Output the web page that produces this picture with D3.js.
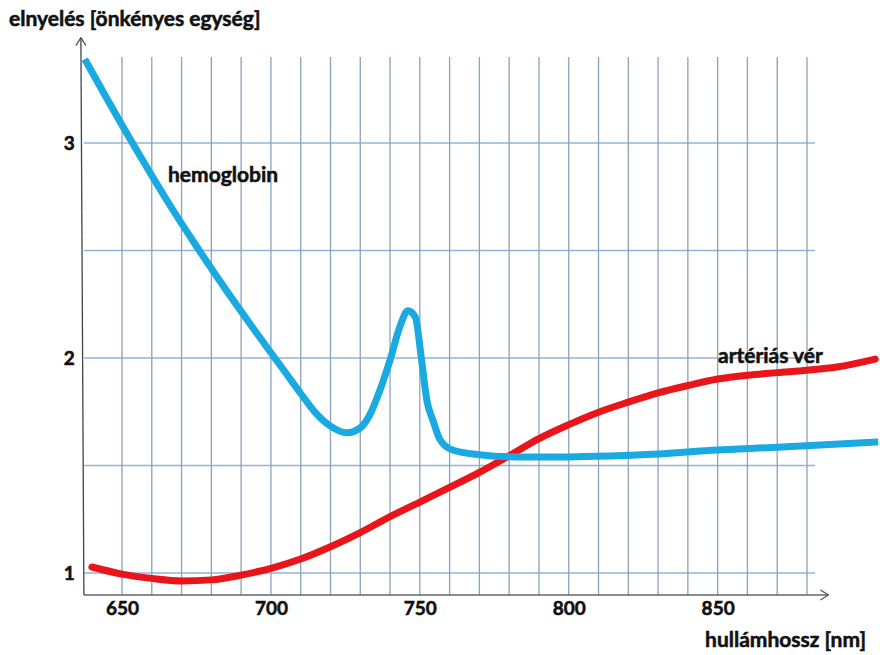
<!DOCTYPE html>
<head>
    <meta charset="utf-8">
    <title>elnyelés - hullámhossz</title>
    <style>
        body { margin: 0; background: #fff; }
        text { font-family: Lato, "Open Sans", sans-serif; font-weight: bold; fill: #111;
               stroke: #111; stroke-width: 0.55px; }
    </style>
</head>

<body>

<svg width="880" height="655"></svg>

<script src="https://d3js.org/d3.v7.min.js"></script>

<script>
    // hullámhossz [nm] -> elnyelés
    const hemoglobin = [
        [637.5, 3.39], [645, 3.205], [655, 2.965], [665, 2.735], [675, 2.52],
        [685, 2.315], [695, 2.12], [705, 1.93], [710, 1.835], [715, 1.745],
        [720, 1.683], [725.5, 1.652], [730, 1.675], [733, 1.73], [736.6, 1.85],
        [740, 1.99], [743.4, 2.15], [746, 2.22], [748.5, 2.19], [750.5, 2.0],
        [752.4, 1.80], [754.4, 1.71], [756.8, 1.62], [761, 1.572], [770, 1.55],
        [782.6, 1.54], [800, 1.54], [813.9, 1.544], [828, 1.552], [850, 1.572],
        [870, 1.585], [903.9, 1.609]
    ];
    const arterial = [
        [639.9, 1.028], [650, 0.995], [660, 0.975], [670, 0.963], [680, 0.968],
        [690, 0.99], [700, 1.022], [710, 1.065], [720, 1.122], [730, 1.188],
        [740, 1.262], [750, 1.33], [760, 1.398], [770, 1.468], [780, 1.545],
        [790, 1.625], [800, 1.69], [810, 1.748], [820, 1.795], [830, 1.838],
        [840, 1.872], [850, 1.902], [860, 1.92], [870, 1.932], [880, 1.943],
        [890, 1.958], [902.9, 1.995]
    ];
    const xTicks = [650, 700, 750, 800, 850];
    const yTicks = [1, 2, 3];
    const xGrid = [650, 660, 670, 680, 690, 700, 710, 720, 730, 740, 750, 760,
                   770, 780, 790, 800, 810, 820, 830, 840, 850, 860, 870, 880];
    const yGrid = [1, 1.5, 2, 2.5, 3];

    const svg = d3.select("svg");

    const x = d3.scaleLinear().domain([650, 880]).range([122, 807]);
    const y = d3.scaleLinear().domain([1, 3]).range([573, 143]);

    // where the axes sit and how far they reach
    const x0 = 637.2, xEnd = 887.2, xGridEnd = 882.7;
    const y0 = 0.898, yEnd = 3.49, yGridTop = 3.40;

    svg.append("defs").append("marker")
        .attr("id", "arrow")
        .attr("viewBox", "0 -6 10 12")
        .attr("refX", 9).attr("refY", 0)
        .attr("markerWidth", 10).attr("markerHeight", 12)
        .attr("markerUnits", "userSpaceOnUse")
        .attr("orient", "auto")
        .append("path")
        .attr("d", "M1,-5L9,0L1,5")
        .attr("fill", "none")
        .attr("stroke", "#555")
        .attr("stroke-width", 1.3);

    // grid
    svg.append("g").selectAll("line")
        .data(yGrid)
        .join("line")
        .attr("x1", x(x0)).attr("x2", x(xGridEnd))
        .attr("y1", d => y(d)).attr("y2", d => y(d))
        .attr("stroke", "#93b3d3")
        .attr("stroke-width", 1.3);

    svg.append("g").selectAll("line")
        .data(xGrid)
        .join("line")
        .attr("x1", d => x(d)).attr("x2", d => x(d))
        .attr("y1", y(y0)).attr("y2", y(yGridTop))
        .attr("stroke", "#8aa2ba")
        .attr("stroke-width", 1.3);

    // axes
    svg.append("line")
        .attr("x1", x(x0)).attr("y1", y(y0))
        .attr("x2", x(xEnd)).attr("y2", y(y0))
        .attr("stroke", "#666").attr("stroke-width", 1.6)
        .attr("marker-end", "url(#arrow)");

    svg.append("line")
        .attr("x1", x(x0)).attr("y1", y(y0))
        .attr("x2", x(x0) - 3).attr("y2", y(yEnd))
        .attr("stroke", "#444").attr("stroke-width", 1.3)
        .attr("marker-end", "url(#arrow)");

    const xAxis = svg.append("g")
        .attr("transform", `translate(0,${y(y0)})`)
        .call(d3.axisBottom(x).tickValues(xTicks).tickSize(0).tickPadding(7));
    xAxis.select(".domain").remove();
    xAxis.selectAll("text")
        .style("font-family", "Lato, sans-serif")
        .style("font-weight", "bold")
        .style("font-size", "19px")
        .attr("fill", "#111");

    const yAxis = svg.append("g")
        .attr("transform", `translate(${x(x0)},0)`)
        .call(d3.axisLeft(y).tickValues(yTicks).tickFormat(d3.format("d"))
            .tickSize(0).tickPadding(9));
    yAxis.select(".domain").remove();
    yAxis.selectAll("text")
        .style("font-family", "Lato, sans-serif")
        .style("font-weight", "bold")
        .style("font-size", "19px")
        .attr("fill", "#111");

    // curves
    const line = d3.line()
        .x(d => x(d[0]))
        .y(d => y(d[1]))
        .curve(d3.curveMonotoneX);

    svg.append("path")
        .datum(arterial)
        .attr("d", line)
        .attr("fill", "none")
        .attr("stroke", "#e8151b")
        .attr("stroke-width", 7)
        .attr("stroke-linecap", "round");

    svg.append("path")
        .datum(hemoglobin)
        .attr("d", line)
        .attr("fill", "none")
        .attr("stroke", "#1ba9e1")
        .attr("stroke-width", 7)
        .attr("stroke-linejoin", "round");

    // labels
    svg.append("text")
        .attr("x", 168).attr("y", 182)
        .style("font-size", "21px")
        .text("hemoglobin");

    svg.append("text")
        .attr("x", 718).attr("y", 363)
        .style("font-size", "21px")
        .text("artériás vér");

    svg.append("text")
        .attr("x", 9).attr("y", 26)
        .style("font-size", "21px")
        .text("elnyelés [önkényes egység]");

    svg.append("text")
        .attr("x", 866).attr("y", 647)
        .attr("text-anchor", "end")
        .style("font-size", "21px")
        .text("hullámhossz [nm]");
</script>

</body>
